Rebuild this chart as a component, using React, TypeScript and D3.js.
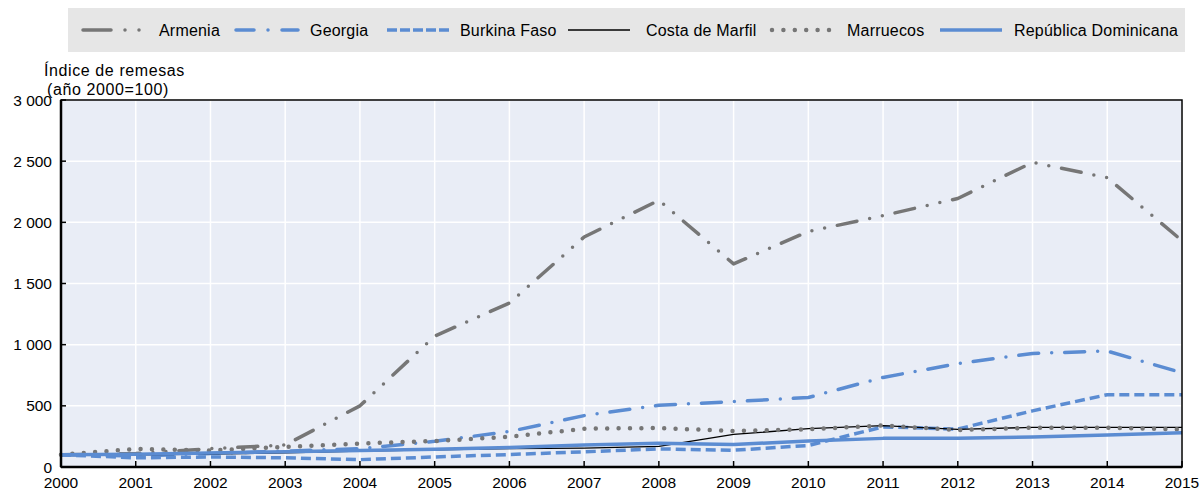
import React from 'react';
import * as d3 from 'd3';

const years = d3.range(2000, 2016);

const armenia = [100, 110, 150, 180, 500, 1070, 1340, 1880, 2180, 1660, 1925, 2055, 2195, 2490, 2365, 1850];
const georgia = [100, 90, 110, 130, 150, 210, 290, 420, 505, 535, 568, 732, 845, 928, 948, 770];
const burkina = [100, 75, 82, 75, 60, 82, 102, 124, 148, 137, 176, 328, 310, 459, 591, 591];
const costa = [100, 100, 105, 115, 130, 140, 150, 155, 168, 266, 313, 338, 308, 324, 324, 324];
const marruecos = [100, 148, 135, 165, 192, 212, 247, 313, 319, 294, 308, 340, 302, 321, 321, 308];
const repDom = [100, 105, 115, 125, 135, 145, 160, 180, 195, 184, 212, 234, 234, 245, 261, 280];

const yTicks = [0, 500, 1000, 1500, 2000, 2500, 3000];

const GRAY = '#767676';
const BLUE = '#5b8cd2';

type Series = {
  name: string;
  values: number[];
  color: string;
  width: number;
  dash?: string;
  legendDash?: string;
  cap: 'butt' | 'round';
};

const series: Series[] = [
  { name: 'Armenia', values: armenia, color: GRAY, width: 3.5, dash: '20,13,0,13,0,13', legendDash: '28,14,0,14,0', cap: 'round' },
  { name: 'Georgia', values: georgia, color: BLUE, width: 3.5, dash: '20,13,0,13', legendDash: '18,14,0,14,18', cap: 'round' },
  { name: 'Burkina Faso', values: burkina, color: BLUE, width: 3.5, dash: '10,5', legendDash: '10,3', cap: 'butt' },
  { name: 'Costa de Marfil', values: costa, color: '#000000', width: 1.3, cap: 'butt' },
  { name: 'Marruecos', values: marruecos, color: GRAY, width: 4.5, dash: '0,11.4', legendDash: '0,11.4', cap: 'round' },
  { name: 'República Dominicana', values: repDom, color: BLUE, width: 3.5, cap: 'butt' },
];

// legend layout: sample start x, text x
const legendPos = [
  [83, 159],
  [236, 310],
  [387, 460],
  [568, 646],
  [772, 847],
  [940, 1014],
];

const fmt = (v: number) => d3.format(',')(v).replace(/,/g, ' ');

export default function App() {
  const width = 1200;
  const height = 492;
  const left = 61;
  const right = 1182;
  const top = 100;
  const bottom = 467;

  const x = d3.scaleLinear().domain([2000, 2015]).range([left, right]);
  const y = d3.scaleLinear().domain([0, 3000]).range([bottom, top]);

  const line = d3
    .line<number>()
    .x((_, i) => x(years[i]))
    .y((d) => y(d));

  const font = '"Liberation Sans", Arial, sans-serif';

  return (
    <svg
      width={width}
      height={height}
      style={{ position: 'absolute', left: 0, top: 0, fontFamily: font }}
    >
      {/* legend */}
      <rect x={68} y={8} width={1117} height={44} fill="#e6e6e6" />
      {series.map((s, i) => {
        const [sx, tx] = legendPos[i];
        return (
          <g key={s.name}>
            <line
              x1={sx}
              x2={sx + 62}
              y1={30}
              y2={30}
              stroke={s.color}
              strokeWidth={s.width}
              strokeDasharray={s.legendDash}
              strokeLinecap={s.cap}
            />
            <text x={tx} y={35.5} fontSize={16} letterSpacing={0.2} fill="#000">
              {s.name}
            </text>
          </g>
        );
      })}

      {/* axis title */}
      <text x={44} y={76} fontSize={16} letterSpacing={0.6}>
        Índice de remesas
      </text>
      <text x={47} y={95} fontSize={16} letterSpacing={0.6}>
        (año 2000=100)
      </text>

      {/* plot background */}
      <rect x={left} y={top} width={right - left} height={bottom - top} fill="#e9edf6" />

      {/* grid */}
      {yTicks.map((t) => (
        <line key={'gy' + t} x1={left} x2={right} y1={y(t)} y2={y(t)} stroke="#fff" strokeWidth={1.5} />
      ))}
      {years.map((yr) => (
        <line key={'gx' + yr} x1={x(yr)} x2={x(yr)} y1={top} y2={bottom} stroke="#fff" strokeWidth={1.5} />
      ))}

      {/* series */}
      {series.map((s) => (
        <path
          key={s.name}
          d={line(s.values) || ''}
          fill="none"
          stroke={s.color}
          strokeWidth={s.width}
          strokeDasharray={s.dash}
          strokeLinecap={s.cap}
          strokeLinejoin="round"
        />
      ))}

      {/* frame */}
      <rect x={left} y={top} width={right - left} height={bottom - top} fill="none" stroke="#000" strokeWidth={1.5} />
      <line x1={left} x2={left} y1={top} y2={bottom} stroke="#000" strokeWidth={2.5} />
      <line x1={left} x2={right} y1={bottom} y2={bottom} stroke="#000" strokeWidth={2.5} />

      {/* ticks */}
      {yTicks.map((t) => (
        <g key={'ty' + t}>
          <line x1={left} x2={left + 5} y1={y(t)} y2={y(t)} stroke="#000" strokeWidth={1.5} />
          <text x={52} y={y(t) + 5.5} fontSize={15.5} textAnchor="end">
            {fmt(t)}
          </text>
        </g>
      ))}
      {years.map((yr) => (
        <g key={'tx' + yr}>
          <line x1={x(yr)} x2={x(yr)} y1={bottom - 6} y2={bottom} stroke="#000" strokeWidth={1.5} />
          <text x={x(yr)} y={487.5} fontSize={15.5} textAnchor="middle">
            {yr}
          </text>
        </g>
      ))}
    </svg>
  );
}
